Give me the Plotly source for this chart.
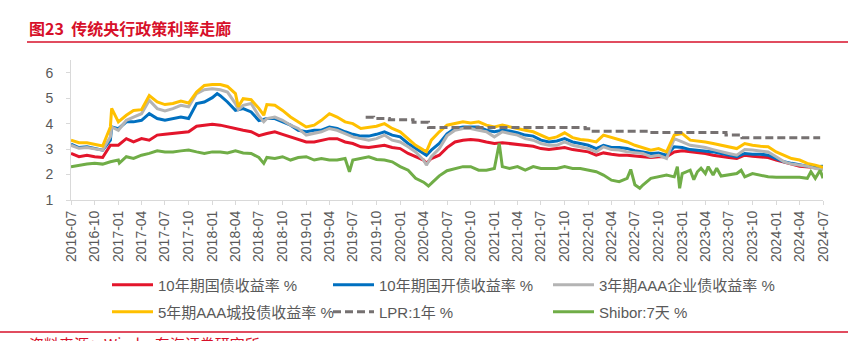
import pandas as pd
import plotly.graph_objects as go

# ---------------- data ----------------
months = pd.date_range("2016-07-01", "2024-07-01", freq="MS")  # 97 monthly points

cgb10 = [2.83, 2.70, 2.76, 2.70, 2.67, 3.15, 3.15, 3.41, 3.28, 3.41, 3.35, 3.55, 3.58,
         3.61, 3.64, 3.68, 3.90, 3.94, 3.98, 3.94, 3.87, 3.81, 3.74, 3.68, 3.53,
         3.61, 3.68, 3.58, 3.48, 3.38, 3.28, 3.28, 3.35, 3.41, 3.41, 3.28, 3.22,
         3.09, 3.06, 3.11, 3.15, 3.06, 3.02, 2.83, 2.70, 2.57, 2.63, 2.76, 3.06,
         3.28, 3.35, 3.38, 3.35, 3.28, 3.22, 3.25, 3.22, 3.19, 3.15, 3.11, 3.02,
         2.98, 3.02, 3.06, 2.98, 2.93, 2.89, 2.76, 2.85, 2.80, 2.76, 2.76, 2.72,
         2.70, 2.67, 2.70, 2.70, 2.89, 2.93, 2.89, 2.85, 2.83, 2.76, 2.70, 2.67,
         2.63, 2.76, 2.72, 2.70, 2.67, 2.57, 2.50, 2.41, 2.33, 2.31, 2.28, 2.24]

cdb10 = [3.19, 3.06, 3.09, 3.02, 2.96, 3.35, 3.80, 4.07, 4.07, 4.13, 4.39, 4.20, 4.13,
         4.20, 4.26, 4.20, 4.79, 4.85, 5.02, 5.10, 4.85, 4.52, 4.59, 4.46, 4.12,
         4.20, 4.20, 4.07, 3.94, 3.74, 3.68, 3.74, 3.74, 3.87, 3.81, 3.68, 3.58,
         3.51, 3.51, 3.58, 3.68, 3.55, 3.48, 3.22, 3.02, 2.83, 2.96, 3.22, 3.60,
         3.81, 3.87, 3.87, 3.87, 3.74, 3.68, 3.74, 3.71, 3.64, 3.55, 3.51, 3.35,
         3.28, 3.32, 3.41, 3.28, 3.22, 3.15, 3.02, 3.15, 3.06, 3.06, 3.02, 2.94,
         2.89, 2.83, 2.85, 2.76, 3.09, 3.06, 2.98, 2.96, 2.93, 2.89, 2.83, 2.76,
         2.70, 2.83, 2.80, 2.80, 2.76, 2.63, 2.50, 2.44, 2.37, 2.33, 2.31, 2.33]

aaa3 = [3.15, 3.03, 3.06, 3.00, 2.96, 3.48, 3.74, 4.13, 4.26, 4.39, 4.92, 4.59, 4.50,
        4.59, 4.72, 4.66, 5.18, 5.33, 5.37, 5.33, 5.24, 4.79, 4.72, 4.79, 4.30,
        4.20, 4.26, 4.13, 3.94, 3.81, 3.55, 3.61, 3.68, 3.81, 3.74, 3.61, 3.48,
        3.41, 3.35, 3.41, 3.55, 3.35, 3.28, 3.09, 2.89, 2.57, 2.70, 3.02, 3.52,
        3.74, 3.81, 3.81, 3.74, 3.68, 3.48, 3.68, 3.61, 3.55, 3.41, 3.35, 3.22,
        3.15, 3.15, 3.28, 3.15, 3.09, 3.02, 2.89, 3.09, 2.98, 2.96, 2.89, 2.87,
        2.83, 2.70, 2.76, 2.63, 3.41, 3.28, 3.15, 3.11, 3.06, 2.98, 2.89, 2.83,
        2.76, 2.98, 2.96, 2.93, 2.89, 2.70, 2.50, 2.41, 2.37, 2.33, 2.24, 2.20]

cit5 = [3.35, 3.25, 3.25, 3.19, 3.12, 3.87, 4.07, 4.33, 4.52, 4.55, 5.10, 4.85, 4.75,
        4.79, 4.89, 4.81, 5.24, 5.50, 5.54, 5.54, 5.46, 5.18, 4.98, 4.94, 4.60,
        4.75, 4.72, 4.52, 4.26, 4.07, 3.87, 3.94, 4.13, 4.39, 4.26, 4.07, 4.00,
        3.81, 3.87, 3.90, 4.00, 3.81, 3.68, 3.41, 3.15, 2.96, 3.35, 3.68, 3.94,
        4.00, 4.07, 4.03, 4.07, 3.94, 3.87, 3.94, 3.87, 3.81, 3.74, 3.68, 3.55,
        3.41, 3.48, 3.64, 3.45, 3.38, 3.35, 3.28, 3.55, 3.45, 3.35, 3.28, 3.15,
        3.06, 2.96, 3.02, 2.89, 3.55, 3.61, 3.35, 3.32, 3.28, 3.22, 3.15, 3.06,
        3.02, 3.22, 3.15, 3.11, 3.09, 2.89, 2.76, 2.63, 2.57, 2.44, 2.37, 2.28]

shibor7 = [2.31, 2.37, 2.41, 2.44, 2.41, 2.50, 2.57, 2.70, 2.63, 2.76, 2.83, 2.93, 2.89,
           2.89, 2.93, 2.96, 2.89, 2.83, 2.89, 2.89, 2.85, 2.93, 2.85, 2.83, 2.67,
           2.67, 2.63, 2.70, 2.57, 2.67, 2.70, 2.57, 2.63, 2.57, 2.57, 2.63, 2.57,
           2.63, 2.70, 2.59, 2.57, 2.50, 2.31, 2.17, 1.85, 1.70, 1.65, 1.95, 2.15,
           2.24, 2.31, 2.31, 2.17, 2.17, 2.24, 2.31, 2.24, 2.31, 2.17, 2.31, 2.24,
           2.24, 2.24, 2.31, 2.24, 2.24, 2.17, 2.11, 1.98, 1.78, 1.72, 1.85, 1.60,
           1.59, 1.85, 1.91, 1.98, 1.91, 2.04, 2.17, 2.11, 2.04, 1.98, 1.94, 1.98,
           2.04, 1.91, 2.04, 1.98, 1.91, 1.89, 1.89, 1.91, 1.89, 1.85, 1.85, 1.85]

# extra intra-month points (spikes / dips visible in the picture)
cgb10_extra_dates = ["2020-04-12"]
cgb10_extra_vals = [2.44]
cdb10_extra_dates = ["2016-12-06", "2018-01-20", "2020-04-12"]
cdb10_extra_vals = [3.87, 5.18, 2.76]
aaa3_extra_dates = ["2016-12-06", "2018-04-12", "2018-07-20", "2020-04-12"]
aaa3_extra_vals = [3.87, 4.55, 4.07, 2.37]
cit5_extra_dates = ["2016-12-06", "2018-04-12", "2018-07-20", "2020-04-12"]
cit5_extra_vals = [4.60, 4.66, 4.33, 2.90]
shibor7_extra_dates = ["2017-01-05", "2018-07-20", "2019-06-18", "2020-04-20", "2021-01-20",
                       "2022-06-15", "2022-07-20", "2022-12-13", "2022-12-22", "2023-02-15",
                       "2023-03-15", "2023-04-12", "2023-05-15", "2023-08-18", "2024-05-15",
                       "2024-06-20"]
shibor7_extra_vals = [2.45, 2.44, 2.11, 1.55, 3.22,
                      2.20, 1.46, 2.31, 1.46, 1.80,
                      2.25, 2.31, 2.25, 2.17, 2.11,
                      2.17]

lpr_dates = ["2019-08-20", "2019-09-20", "2019-11-20", "2020-02-20", "2020-04-20",
             "2021-12-20", "2022-01-20", "2022-08-22", "2023-06-20", "2023-08-21", "2024-06-20"]
lpr_vals = [4.25, 4.20, 4.15, 4.05, 3.85, 3.80, 3.70, 3.65, 3.55, 3.45, 3.45]

names = ["10年期国债收益率 %", "10年期国开债收益率 %", "3年期AAA企业债收益率 %",
         "5年期AAA城投债收益率 %", "LPR:1年 %", "Shibor:7天 %"]
colors = ["#E3152B", "#0070C0", "#B4B4B4", "#FFC000", "#767171", "#70AD47"]

y_ticks = [1, 2, 3, 4, 5, 6]

# ---------------- helpers ----------------
def build(base, ex_dates, ex_vals):
    s = pd.Series(base, index=months)
    e = pd.Series(ex_vals, index=pd.to_datetime(ex_dates))
    return pd.concat([s, e]).sort_index()

series = [
    build(cgb10, cgb10_extra_dates, cgb10_extra_vals),
    build(cdb10, cdb10_extra_dates, cdb10_extra_vals),
    build(aaa3, aaa3_extra_dates, aaa3_extra_vals),
    build(cit5, cit5_extra_dates, cit5_extra_vals),
    None,
    build(shibor7, shibor7_extra_dates, shibor7_extra_vals),
]

FONT = "Liberation Sans, Noto Sans CJK SC, sans-serif"
W, H = 857, 341
ML, MR, MT, MB = 71, 34, 60, 141
PW, PH = W - ML - MR, H - MT - MB

def px_x(x):
    return (x - ML) / PW

def px_y(y):
    return (H - MB - y) / PH

# legend slots: (left x px, centre y px) for each entry, 3 columns x 2 rows
col_x = [107, 328, 548]
row_y = [285, 312]
legend_ids = ["legend", "legend2", "legend3", "legend4", "legend5", "legend6"]

fig = go.Figure()
for i, name in enumerate(names):
    leg = legend_ids[i]
    if i == 4:
        fig.add_trace(go.Scatter(x=pd.to_datetime(lpr_dates), y=lpr_vals, name=name, mode="lines",
                                 line=dict(color=colors[i], width=3, dash="8px,4px", shape="hv"),
                                 legend=leg))
    else:
        s = series[i]
        fig.add_trace(go.Scatter(x=s.index, y=s.values, name=name, mode="lines",
                                 line=dict(color=colors[i], width=3), legend=leg))

legend_layout = {}
for i, lid in enumerate(legend_ids):
    legend_layout[lid] = dict(orientation="h", xref="container", yref="container",
                              xanchor="left", yanchor="middle", itemwidth=41,
                              x=col_x[i % 3] / W, y=1 - row_y[i // 3] / H,
                              font=dict(size=15, color="#595959", family=FONT),
                              bgcolor="rgba(0,0,0,0)", borderwidth=0)

RED = "#D7102A"
fig.update_layout(
    width=W, height=H,
    margin=dict(l=ML, r=MR, t=MT, b=MB, pad=0, autoexpand=False),
    paper_bgcolor="white", plot_bgcolor="white",
    font=dict(family=FONT, color="#595959", size=14),
    showlegend=True,
    **legend_layout,
    xaxis=dict(type="date", range=["2016-07-01", "2024-07-01"], tickmode="linear",
               tick0="2016-07-01", dtick="M3", tickformat="%Y-%m", tickangle=-90,
               showline=True, linecolor="#D9D9D9", linewidth=1, ticks="outside",
               ticklen=4, tickcolor="#D9D9D9", showgrid=False, zeroline=False,
               automargin=False, tickfont=dict(size=14, color="#595959")),
    yaxis=dict(range=[1, 6.5], tickvals=y_ticks, showline=True, linecolor="#D9D9D9",
               linewidth=1, ticks="outside", ticklen=4, tickcolor="#D9D9D9",
               showgrid=False, zeroline=False, ticklabelstandoff=10, automargin=False,
               tickfont=dict(size=14, color="#595959")),
    annotations=[
        dict(text="<b>图23\u00a0\u00a0传统央行政策利率走廊</b>", xref="paper", yref="paper",
             x=px_x(27), y=px_y(28), xanchor="left", yanchor="middle", showarrow=False,
             font=dict(size=16, color=RED, family="Noto Sans CJK SC, sans-serif")),
        dict(text="资料来源：Wind，东海证券研究所", xref="paper", yref="paper",
             x=px_x(27), y=px_y(331), xanchor="left", yanchor="top", showarrow=False,
             font=dict(size=15, color=RED, family="Noto Sans CJK SC, sans-serif")),
    ],
    shapes=[
        dict(type="line", xref="paper", yref="paper", x0=px_x(27), x1=px_x(848),
             y0=px_y(42), y1=px_y(42), line=dict(color=RED, width=1.5)),
        dict(type="line", xref="paper", yref="paper", x0=px_x(0), x1=px_x(848),
             y0=px_y(332), y1=px_y(332), line=dict(color=RED, width=1.5)),
    ],
)

fig.write_html("out.html")
